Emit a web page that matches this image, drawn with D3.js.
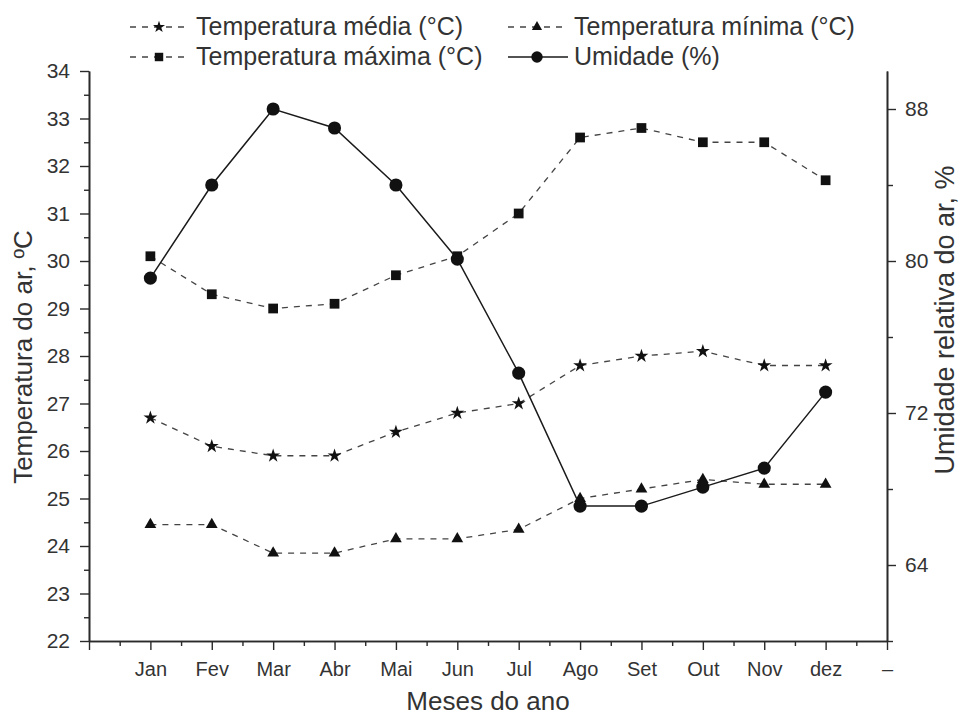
<!DOCTYPE html>
<html>
<head>
<meta charset="utf-8">
<script src="https://cdn.jsdelivr.net/npm/d3@7"></script>
<style>
  body { margin: 0; background: #ffffff; }
  svg text { font-family: "Liberation Sans", Arial, sans-serif; fill: #333333; }
</style>
</head>
<body>
<div id="chart"></div>
<script>
// Data
const months = ['Jan', 'Fev', 'Mar', 'Abr', 'Mai', 'Jun', 'Jul', 'Ago', 'Set', 'Out', 'Nov', 'dez'];
const tempMedia = [26.7, 26.1, 25.9, 25.9, 26.4, 26.8, 27.0, 27.8, 28.0, 28.1, 27.8, 27.8];
const tempMinima = [24.45, 24.45, 23.85, 23.85, 24.15, 24.15, 24.35, 25.0, 25.2, 25.4, 25.3, 25.3];
const tempMaxima = [30.1, 29.3, 29.0, 29.1, 29.7, 30.1, 31.0, 32.6, 32.8, 32.5, 32.5, 31.7];
const umidade = [79.1, 84.0, 88.0, 87.0, 84.0, 80.1, 74.1, 67.1, 67.1, 68.1, 69.1, 73.1];

const tempTicks = [22, 23, 24, 25, 26, 27, 28, 29, 30, 31, 32, 33, 34];
const umidTicks = [64, 72, 80, 88];
const umidMinorTicks = [60, 68, 76, 84];

// Chart size and plot area
const width = 959;
const height = 716;
const margin = { top: 71, right: 72, bottom: 75, left: 89 };
const plotW = width - margin.left - margin.right;
const plotH = height - margin.top - margin.bottom;

const svg = d3.select('#chart')
  .append('svg')
  .attr('width', width)
  .attr('height', height);

const g = svg.append('g')
  .attr('transform', `translate(${margin.left},${margin.top})`);

// Scales: month index -1 .. 12 spans the x axis
const x = d3.scaleLinear().domain([-1, 12]).range([0, plotW]);
const yTemp = d3.scaleLinear().domain([22, 34]).range([plotH, 0]);
const yUmid = d3.scaleLinear().domain([60, 90]).range([plotH, 0]);

const axisColor = '#2a2a2a';

function styleAxis(sel) {
  sel.select('.domain').attr('stroke', axisColor).attr('stroke-width', 1.6);
  sel.selectAll('.tick line').attr('stroke', axisColor).attr('stroke-width', 1.4);
  sel.selectAll('.tick text').attr('fill', '#333');
}

// Bottom axis - minor ticks first
g.append('g')
  .attr('transform', `translate(0,${plotH})`)
  .call(d3.axisBottom(x).tickValues(d3.range(-0.5, 12, 1)).tickSize(5).tickFormat('').tickSizeOuter(0))
  .call(styleAxis);

const xAxisG = g.append('g')
  .attr('transform', `translate(0,${plotH})`)
  .call(d3.axisBottom(x)
    .tickValues(d3.range(-1, 13))
    .tickSize(9)
    .tickSizeOuter(0)
    .tickPadding(12)
    .tickFormat(d => d >= 0 && d < 12 ? months[d] : (d === 12 ? '–' : '')))
  .call(styleAxis);
xAxisG.selectAll('.tick text').attr('font-size', 20);

// Left axis
g.append('g')
  .call(d3.axisLeft(yTemp).tickValues(d3.range(22.5, 34, 1)).tickSize(5).tickFormat('').tickSizeOuter(0))
  .call(styleAxis);

const yAxisG = g.append('g')
  .call(d3.axisLeft(yTemp).tickValues(tempTicks).tickSize(9).tickPadding(10).tickSizeOuter(0))
  .call(styleAxis);
yAxisG.selectAll('.tick text').attr('font-size', 21);

// Right axis
g.append('g')
  .attr('transform', `translate(${plotW},0)`)
  .call(d3.axisRight(yUmid).tickValues(umidMinorTicks).tickSize(6).tickFormat('').tickSizeOuter(0))
  .call(styleAxis);

const y2AxisG = g.append('g')
  .attr('transform', `translate(${plotW},0)`)
  .call(d3.axisRight(yUmid).tickValues(umidTicks).tickSize(9).tickPadding(9).tickSizeOuter(0))
  .call(styleAxis);
y2AxisG.selectAll('.tick text').attr('font-size', 21);

// Axis titles
svg.append('text')
  .attr('x', margin.left + x(5.5))
  .attr('y', 710)
  .attr('text-anchor', 'middle')
  .attr('font-size', 26)
  .text('Meses do ano');

svg.append('text')
  .attr('transform', 'translate(32,357) rotate(-90)')
  .attr('text-anchor', 'middle')
  .attr('font-size', 26)
  .text('Temperatura do ar, ºC');

svg.append('text')
  .attr('transform', 'translate(954,320) rotate(-90)')
  .attr('text-anchor', 'middle')
  .attr('font-size', 27)
  .text('Umidade relativa do ar, %');

// Series definitions
const series = [
  { name: 'Temperatura média (°C)', values: tempMedia, y: yTemp, symbol: d3.symbolStar, size: 60, dash: '6,6' },
  { name: 'Temperatura mínima (°C)', values: tempMinima, y: yTemp, symbol: d3.symbolTriangle, size: 60, dash: '6,6' },
  { name: 'Temperatura máxima (°C)', values: tempMaxima, y: yTemp, symbol: d3.symbolSquare, size: 95, dash: '6,6' },
  { name: 'Umidade (%)', values: umidade, y: yUmid, symbol: d3.symbolCircle, size: 135, dash: null }
];

series.forEach(s => {
  const line = d3.line()
    .x((d, i) => x(i))
    .y(d => s.y(d));

  g.append('path')
    .datum(s.values)
    .attr('fill', 'none')
    .attr('stroke', s.dash ? '#444' : '#1a1a1a')
    .attr('stroke-width', s.dash ? 1.3 : 1.5)
    .attr('stroke-dasharray', s.dash)
    .attr('d', line);

  g.selectAll(null)
    .data(s.values)
    .enter()
    .append('path')
    .attr('transform', (d, i) => `translate(${x(i)},${s.y(d)})`)
    .attr('d', d3.symbol().type(s.symbol).size(s.size))
    .attr('fill', '#111');
});

// Legend: two rows, two columns
const legendPos = [
  { col: 0, row: 0 },
  { col: 1, row: 0 },
  { col: 0, row: 1 },
  { col: 1, row: 1 }
];
const colX = [130, 508];
const rowY = [27, 57];

series.forEach((s, i) => {
  const lx = colX[legendPos[i].col];
  const ly = rowY[legendPos[i].row];
  const item = svg.append('g').attr('transform', `translate(${lx},${ly})`);

  item.append('line')
    .attr('x1', 0).attr('x2', 60)
    .attr('y1', 0).attr('y2', 0)
    .attr('stroke', s.dash ? '#444' : '#1a1a1a')
    .attr('stroke-width', s.dash ? 1.3 : 1.5)
    .attr('stroke-dasharray', s.dash);

  item.append('path')
    .attr('transform', 'translate(29,0)')
    .attr('d', d3.symbol().type(s.symbol).size(s.size * 0.75))
    .attr('fill', '#111');

  item.append('text')
    .attr('x', 66)
    .attr('y', 8)
    .attr('font-size', 25)
    .text(s.name);
});
</script>
</body>
</html>
